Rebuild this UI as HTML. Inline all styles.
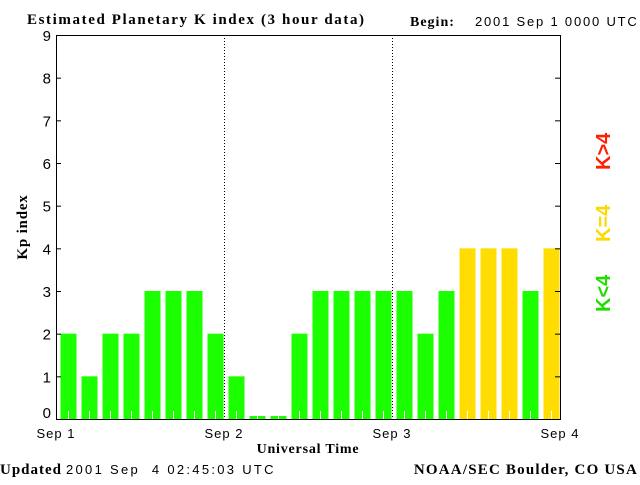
<!DOCTYPE html>
<html><head><meta charset="utf-8"><style>
body{margin:0;background:#fff;width:640px;height:480px;overflow:hidden}
text{font-family:"Liberation Sans",sans-serif;white-space:pre}
.s{font-family:"Liberation Serif",serif;font-weight:bold}
</style></head><body>
<svg id="c" width="640" height="480">
<text class="s" x="27" y="24" font-size="15" letter-spacing="1.6">Estimated Planetary K index (3 hour data)</text>
<text class="s" x="410" y="26" font-size="14" letter-spacing="1">Begin:</text>
<text x="475" y="26" font-size="13" letter-spacing="1.8">2001 Sep 1 0000 UTC</text>
<text class="s" x="0" y="474" font-size="15" letter-spacing="1">Updated</text>
<text x="66" y="474" font-size="13" letter-spacing="2.3">2001 Sep  4 02:45:03 UTC</text>
<text class="s" x="638" y="474" font-size="15" letter-spacing="1.2" text-anchor="end">NOAA/SEC Boulder, CO USA</text>
<text class="s" x="308" y="453" font-size="14" letter-spacing="0.8" text-anchor="middle">Universal Time</text>
<text class="s" transform="translate(27,227) rotate(-90)" font-size="15" letter-spacing="0.8" text-anchor="middle">Kp index</text>
<text transform="translate(610,312) rotate(-90)" font-size="20" font-weight="bold" fill="#22dd00">K&lt;4</text>
<text transform="translate(610,242) rotate(-90)" font-size="20" font-weight="bold" fill="#ffd800">K=4</text>
<text transform="translate(610,170) rotate(-90)" font-size="20" font-weight="bold" fill="#ff2000">K&gt;4</text>
<g id="g"></g>
</svg>
<script>
const kpValues=[2,1,2,2,3,3,3,2, 1,0,0,2,3,3,3,3, 3,2,3,4,4,4,3,4];
const yTicks=[0,1,2,3,4,5,6,7,8,9];
const dayLabels=["Sep 1","Sep 2","Sep 3","Sep 4"];
const L=56,R=560,T=35,B=419,NS="http://www.w3.org/2000/svg";
const g=document.getElementById('g');
const x=i=>L+(R-L)*i/kpValues.length;
const y=v=>B-(B-T)*v/9;
function mk(t,a){const e=document.createElementNS(NS,t);for(const k in a)e.setAttribute(k,a[k]);g.appendChild(e);return e;}
kpValues.forEach((v,i)=>{
  const col=v<4?'#1cff00':(v==4?'#ffdd00':'#ff2000');
  const top=Math.min(y(v),B-3);
  const b=mk('rect',{x:x(i)+4.5,y:top,width:16,height:B-top,fill:col});
  
  
  const t=mk('line',{x1:x(i)+12.5,x2:x(i)+12.5,y1:B-8,y2:B,stroke:'#fff'});
  
  
});
[1,2].forEach(d=>{const l=mk('line',{x1:L+168*d+0.5,x2:L+168*d+0.5,y1:T,y2:B,stroke:'#000','stroke-dasharray':'1,2'});

});
const ax=mk('rect',{x:L+0.5,y:T+0.5,width:R-L,height:B-T,fill:'none',stroke:'#000'});


yTicks.forEach(v=>{
  mk('line',{x1:L,x2:L+5,y1:y(v)+0.5,y2:y(v)+0.5,stroke:'#000'});
  mk('line',{x1:R-5,x2:R,y1:y(v)+0.5,y2:y(v)+0.5,stroke:'#000'});
  const t=mk('text',{x:L-5,y:Math.min(y(v)+6,418),'font-size':15,'text-anchor':'end'});
  t.textContent=v;
  
  
});
dayLabels.forEach((s,d)=>{
  const t=mk('text',{x:L+168*d,y:438,'font-size':13,'letter-spacing':1,'text-anchor':'middle'});
  t.textContent=s;
  
  
});
</script>
</body></html>
